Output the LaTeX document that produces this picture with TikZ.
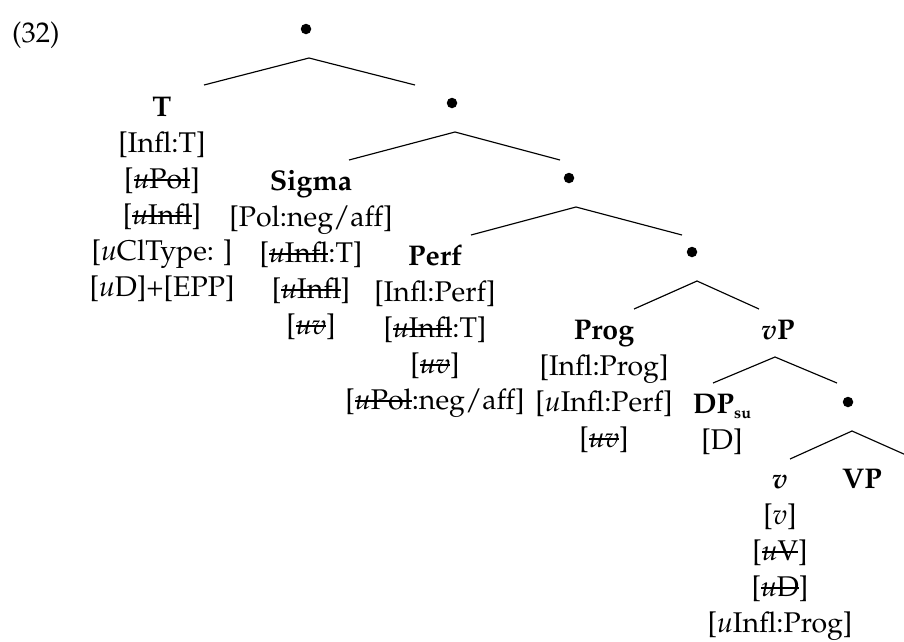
\documentclass[tikz,border=0pt]{standalone}
\usepackage[T1]{fontenc}
\usepackage{mathpazo}
\newsavebox{\stkbox}
\newcommand{\stk}[1]{\sbox{\stkbox}{#1}\rlap{\raisebox{0.62ex}{\rule[-0.9pt]{\wd\stkbox}{1.8pt}}}\usebox{\stkbox}}
\newcommand{\uu}{\textit{u}}
\newcommand{\subsu}{\raisebox{-4.5pt}{\fontsize{16}{16}\selectfont\textbf{su}}}
\begin{document}
\begin{tikzpicture}[x=1pt,y=-1pt,
  every node/.style={font=\fontsize{28.5}{36}\selectfont, inner sep=0pt},
  col/.style={align=center, anchor=north},
  dotn/.style={circle, fill=black, inner sep=0pt, minimum size=10.5pt, anchor=center},
  branch/.style={line width=1.15pt, line cap=butt}]
\path[use as bounding box] (0,0) rectangle (904,641);
\clip (0,0) rectangle (904,641);

% example number
\node[anchor=base west] (ex) at (12,42) {(32)};

% internal dots
\node[dotn] (n0) at (306,29) {};
\node[dotn] (n1) at (452,103) {};
\node[dotn] (n2) at (569,178) {};
\node[dotn] (n3) at (692,252) {};
\node[dotn] (n5) at (848,402) {};

% terminal / labelled nodes
\node[col] (T) at (162,90.85) {\strut\textbf{T}\\
  \strut[Infl:T]\\
  \strut[\stk{\uu Pol}]\\
  \strut[\stk{\uu Infl}]\\
  \strut[\uu ClType: ]\\
  \strut[\uu D]+[EPP]};

\node[col] (Sig) at (311,165.25) {\strut\textbf{Sigma}\\
  \strut[Pol:neg/aff]\\
  \strut[\stk{\uu Infl}:T]\\
  \strut[\stk{\uu Infl}]\\
  \strut[\stk{\uu\textit{v}}]};

\node[col] (Perf) at (435,239.65) {\strut\textbf{Perf}\\
  \strut[Infl:Perf]\\
  \strut[\stk{\uu Infl}:T]\\
  \strut[\stk{\uu\textit{v}}]\\
  \strut[\stk{\uu Pol}:neg/aff]};

\node[col] (Prog) at (604,314.05) {\strut\textbf{Prog}\\
  \strut[Infl:Prog]\\
  \strut[\uu Infl:Perf]\\
  \strut[\stk{\uu\textit{v}}]};

\node[col] (vP) at (778,314.05) {\strut\textbf{\textit{v}P}};

\node[col] (DP) at (722,388.45) {\strut\textbf{DP}\subsu\\
  \strut[D]};

\node[col] (v) at (780,462.85) {\strut\textbf{\textit{v}}\\
  \strut[\textit{v}]\\
  \strut[\stk{\uu V}]\\
  \strut[\stk{\uu D}]\\
  \strut[\uu Infl:Prog]};

\node[col] (VP) at (862,462.85) {\strut\textbf{VP}};

% branch points
\coordinate (a0) at (309,58);   \coordinate (l0) at (204,85);  \coordinate (r0) at (415,85);
\coordinate (a1) at (455,132);  \coordinate (l1) at (349,160); \coordinate (r1) at (560,160);
\coordinate (a2) at (576,207);  \coordinate (l2) at (471,235); \coordinate (r2) at (682,235);
\coordinate (a3) at (697,281);  \coordinate (l3) at (634,309); \coordinate (r3) at (759,309);
\coordinate (a4) at (775,357);  \coordinate (l4) at (713,383); \coordinate (r4) at (837,383);
\coordinate (a5) at (852,431);  \coordinate (l5) at (790,459); \coordinate (r5) at (915,459);

\draw[branch] (l0) -- (a0) -- (r0);
\draw[branch] (l1) -- (a1) -- (r1);
\draw[branch] (l2) -- (a2) -- (r2);
\draw[branch] (l3) -- (a3) -- (r3);
\draw[branch] (l4) -- (a4) -- (r4);
\draw[branch] (l5) -- (a5) -- (r5);
\end{tikzpicture}
\end{document}
